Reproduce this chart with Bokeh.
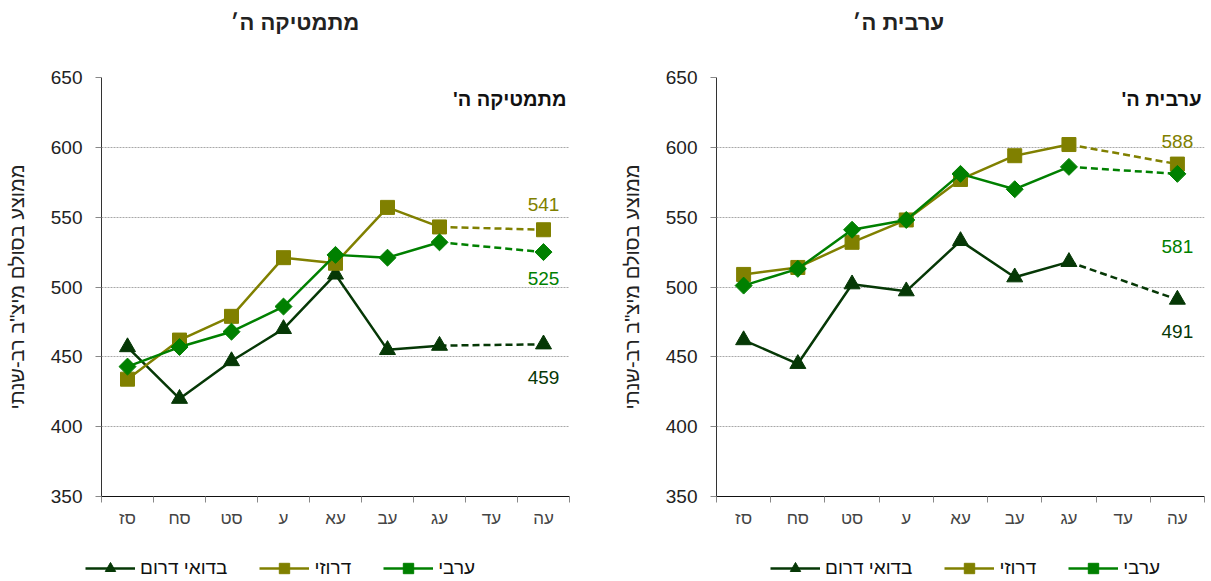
import math
from bokeh.plotting import figure
from bokeh.layouts import row, column
from bokeh.models import Range1d, FixedTicker, Legend, LegendItem
from bokeh.core.properties import value
from bokeh.embed import file_html
from bokeh.resources import INLINE

# ---------------- data ----------------
years = ["סז", "סח", "סט", "ע", "עא", "עב", "עג", "עד", "עה"]
series_names = ["בדואי דרום", "דרוזי", "ערבי"]

math_bedouin = [457, 420, 447, 470, 509, 455, 458, None, 459]
math_druze = [434, 462, 479, 521, 517, 557, 543, None, 541]
math_arab = [443, 457, 468, 486, 523, 521, 532, None, 525]

arabic_bedouin = [462, 445, 502, 497, 533, 507, 518, None, 491]
arabic_druze = [509, 514, 532, 548, 577, 594, 602, None, 588]
arabic_arab = [501, 513, 541, 548, 581, 570, 586, None, 581]

y_ticks = [350, 400, 450, 500, 550, 600, 650]

math_title = "מתמטיקה ה׳"
math_inner = "מתמטיקה ה'\u200f"
arabic_title = "ערבית ה׳"
arabic_inner = "ערבית ה'\u200f"
y_label = 'ממוצע בסולם מיצ"ב רב-שנתי'

# ---------------- styles ----------------
FONT = "Liberation Sans"
colors = ["#063806", "#808000", "#008000"]
markers = ["triangle", "square", "square"]
mangles = [0, 0, math.pi / 4]
msizes = [16, 14, 12]
LINE_W = 2.5


def runs(vals):
    out, cur = [], []
    for i, v in enumerate(vals):
        if v is None:
            if cur:
                out.append(cur)
            cur = []
        else:
            cur.append(i)
    if cur:
        out.append(cur)
    return out


def make_panel(title, inner, series, label_offsets, width, border_left, border_right,
               title_offset):
    n = len(years)
    centers = [i + 0.5 for i in range(n)]
    p = figure(width=width, height=541, output_backend="svg", toolbar_location=None,
               x_range=Range1d(0, n), y_range=Range1d(y_ticks[0], y_ticks[-1]),
               min_border_left=border_left, min_border_right=border_right,
               min_border_top=77, min_border_bottom=45)
    p.outline_line_color = None
    p.background_fill_color = "white"
    p.border_fill_color = "white"

    # title (extra empty lines push the text upwards)
    p.title.text = title + "\n\n"
    p.title.align = "left"
    p.title.offset = title_offset
    p.title.text_font = FONT
    p.title.text_font_size = "22px"
    p.title.text_font_style = "bold"
    p.title.text_color = "#222222"
    p.title.text_line_height = 0.85
    p.title.standoff = 0

    # x axis
    xa = p.xaxis[0]
    xa.ticker = FixedTicker(ticks=centers, minor_ticks=list(range(n + 1)))
    xa.major_label_overrides = {c: y for c, y in zip(centers, years)}
    xa.major_tick_out = 0
    xa.major_tick_in = 0
    xa.minor_tick_out = 6
    xa.minor_tick_in = 0
    xa.minor_tick_line_color = "#888888"
    xa.axis_line_color = "#111111"
    xa.axis_line_width = 1.2
    xa.major_label_text_font = FONT
    xa.major_label_text_font_size = "17px"
    xa.major_label_text_color = "#444444"
    xa.major_label_standoff = 6

    # y axis
    ya = p.yaxis[0]
    ya.ticker = FixedTicker(ticks=y_ticks)
    ya.major_tick_out = 6
    ya.major_tick_in = 0
    ya.major_tick_line_color = "#888888"
    ya.minor_tick_line_color = None
    ya.axis_line_color = "#333333"
    ya.major_label_text_font = FONT
    ya.major_label_text_font_size = "19px"
    ya.major_label_text_color = "#222222"
    ya.major_label_standoff = 13
    ya.axis_label = y_label
    ya.axis_label_text_font = FONT
    ya.axis_label_text_font_size = "20px"
    ya.axis_label_text_font_style = "normal"
    ya.axis_label_text_color = "#222222"
    ya.axis_label_standoff = 20

    p.xgrid.visible = False
    p.ygrid.ticker = FixedTicker(ticks=y_ticks)
    p.ygrid.grid_line_color = "#a8a8a8"
    p.ygrid.grid_line_dash = "2 1"
    p.ygrid.grid_line_width = 1

    for k, vals in enumerate(series):
        col = colors[k]
        rs = runs(vals)
        for r in rs:
            if len(r) > 1:
                p.line([centers[i] for i in r], [vals[i] for i in r],
                       line_color=col, line_width=LINE_W)
        for a, b in zip(rs[:-1], rs[1:]):
            i0, i1 = a[-1], b[0]
            p.line([centers[i0], centers[i1]], [vals[i0], vals[i1]],
                   line_color=col, line_width=LINE_W, line_dash="7 4")
        idx = [i for i, v in enumerate(vals) if v is not None]
        p.scatter([centers[i] for i in idx], [vals[i] for i in idx],
                  marker=markers[k], size=msizes[k], angle=mangles[k],
                  fill_color=col, line_color=col)
        # end value label
        last = idx[-1]
        p.text(x=[centers[last]], y=[vals[last]], text=[str(vals[last])],
               text_font=value(FONT), text_font_size="19px", text_color=col,
               text_align="center", text_baseline="middle",
               y_offset=label_offsets[k])

    # inner label
    p.text(x=[n], y=[y_ticks[-1]], text=[inner], text_font=value(FONT),
           text_font_size="20px", text_font_style="bold", text_color="#111111",
           text_align="right", text_baseline="middle", x_offset=-3, y_offset=21)
    return p


def make_legend(width, legend_x):
    lp = figure(width=width, height=40, output_backend="svg", toolbar_location=None,
                x_range=Range1d(0, 1), y_range=Range1d(0, 1),
                x_axis_location=None, y_axis_location=None,
                min_border_left=0, min_border_right=0, min_border_top=0,
                min_border_bottom=0)
    lp.grid.visible = False
    lp.outline_line_color = None
    items = []
    for k, name in enumerate(series_names):
        # legend-only renderers, placed outside the visible range
        lr = lp.line(x=[-5, -4], y=[-5, -5], line_color=colors[k], line_width=LINE_W)
        sr = lp.scatter(x=[-5], y=[-5], marker=markers[k], size=msizes[k],
                        angle=mangles[k],
                        fill_color=colors[k], line_color=colors[k])
        items.append(LegendItem(label=name, renderers=[lr, sr]))
    legend = Legend(items=items, orientation="horizontal", location=(legend_x, 0),
                    glyph_width=50, glyph_height=26, label_standoff=5, spacing=32,
                    padding=0, margin=0, border_line_color=None,
                    background_fill_alpha=0,
                    label_text_font=FONT, label_text_font_size="19px",
                    label_text_color="#111111")
    lp.add_layout(legend)
    return lp


left = make_panel(math_title, math_inner, [math_bedouin, math_druze, math_arab],
                  [33, -25, 26], width=608, border_left=101, border_right=39,
                  title_offset=129)
right = make_panel(arabic_title, arabic_inner, [arabic_bedouin, arabic_druze, arabic_arab],
                   [32, -23, 73], width=603, border_left=108, border_right=7,
                   title_offset=136)
leg_left = make_legend(608, 85)
leg_right = make_legend(603, 162)

layout = column(row(left, right), row(leg_left, leg_right))
open("out.html", "w").write(file_html(layout, INLINE))
